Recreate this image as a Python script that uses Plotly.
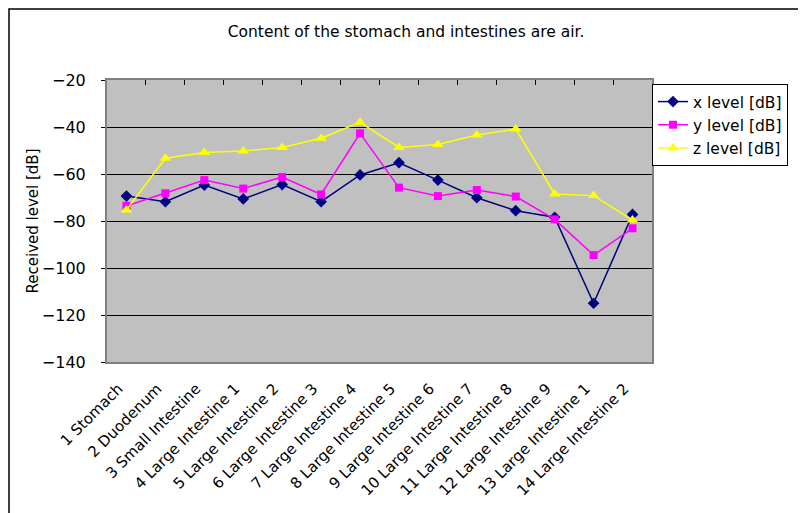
import plotly.graph_objects as go

categories = ["1 Stomach", "2 Duodenum", "3 Small Intestine", "4 Large Intestine 1",
              "5 Large Intestine 2", "6 Large Intestine 3", "7 Large Intestine 4",
              "8 Large Intestine 5", "9 Large Intestine 6", "10 Large Intestine 7",
              "11 Large Intestine 8", "12 Large Intestine 9", "13 Large Intestine 1",
              "14 Large Intestine 2"]
x_level = [-69.4, -71.8, -64.7, -70.6, -64.5, -71.8, -60.4, -55.2, -62.6, -70.1,
           -75.6, -78.4, -115.0, -77.2]
y_level = [-73.6, -68.2, -62.6, -66.2, -61.3, -68.7, -42.7, -65.8, -69.4, -66.8,
           -69.6, -79.3, -94.5, -83.1]
z_level = [-75.3, -53.3, -50.9, -50.2, -48.7, -44.8, -38.0, -48.7, -47.4, -43.4,
           -40.9, -68.5, -69.2, -79.6]
y_ticks = [-140, -120, -100, -80, -60, -40, -20]

FONT = "DejaVu Sans, Liberation Sans, sans-serif"
idx = list(range(len(categories)))

# page has an 8px body margin; figure is sized/offset to compensate
W, H = 798, 505
PL, PR, PT, PB = 99, 644, 72, 354   # plot area in figure pixels

fig = go.Figure()
fig.add_trace(go.Scatter(x=idx, y=x_level, name="x level [dB]", mode="lines+markers",
                         line=dict(color="#000080", width=1.5),
                         marker=dict(symbol="diamond", size=9, color="#000080")))
fig.add_trace(go.Scatter(x=idx, y=y_level, name="y level [dB]", mode="lines+markers",
                         line=dict(color="#FF00FF", width=1.5),
                         marker=dict(symbol="square", size=8, color="#FF00FF")))
fig.add_trace(go.Scatter(x=idx, y=z_level, name="z level [dB]", mode="lines+markers",
                         line=dict(color="#FFFF00", width=1.5),
                         marker=dict(symbol="triangle-up", size=10, color="#FFFF00")))
# invisible trace to carry the top category-boundary ticks
fig.add_trace(go.Scatter(x=idx, y=x_level, xaxis="x2", showlegend=False,
                         hoverinfo="skip", mode="markers", marker=dict(opacity=0)))

pw, ph = PR - PL, PB - PT
fig.update_layout(
    width=W, height=H,
    margin=dict(l=PL, r=W - PR, t=PT, b=H - PB, autoexpand=False),
    paper_bgcolor="white", plot_bgcolor="#C0C0C0",
    font=dict(family=FONT, size=15, color="black"),
    title=dict(text="Content of the stomach and intestines are air.",
               x=398 / W, xanchor="center", y=1 - 24 / H, yanchor="middle",
               font=dict(size=15.5, family=FONT)),
    xaxis=dict(range=[-0.5, len(categories) - 0.5], tickvals=idx, ticktext=categories,
               tickangle=-45, showgrid=False, zeroline=False, ticks="",
               showline=True, linecolor="#808080", linewidth=2, mirror=True,
               automargin=False, ticklabelstandoff=10, ticklabelshift=-8,
               tickfont=dict(size=15, family=FONT)),
    xaxis2=dict(overlaying="x", side="top", range=[-0.5, len(categories) - 0.5],
                tickvals=[i + 0.5 for i in idx[:-1]], showticklabels=False,
                ticks="inside", ticklen=5, tickcolor="black", showgrid=False,
                zeroline=False, showline=False, automargin=False),
    yaxis=dict(range=[-140, -20], tickvals=y_ticks, showgrid=True, gridcolor="black",
               gridwidth=1, zeroline=False, ticks="outside", ticklen=4, tickcolor="black",
               showline=True, linecolor="#808080", linewidth=2, mirror=True,
               automargin=False, ticklabelstandoff=12,
               title=dict(text="Received level [dB]", font=dict(size=15, family=FONT),
                          standoff=0),
               tickfont=dict(size=16, family=FONT)),
    legend=dict(x=1.0, xanchor="left", y=(PB - 76) / ph, yanchor="top",
                bgcolor="white", bordercolor="black", borderwidth=1,
                font=dict(size=15.5, family=FONT), tracegroupgap=0),
    showlegend=True,
)

# outer chart border (left/top edges clipped to figure edge)
fig.add_shape(type="rect", xref="paper", yref="paper",
              x0=(1 - PL) / pw, x1=(793 - PL) / pw,
              y0=(PB - 520) / ph, y1=(PB - 1) / ph,
              line=dict(color="black", width=1.5), fillcolor="rgba(0,0,0,0)", layer="below")

fig.write_html("out.html")
